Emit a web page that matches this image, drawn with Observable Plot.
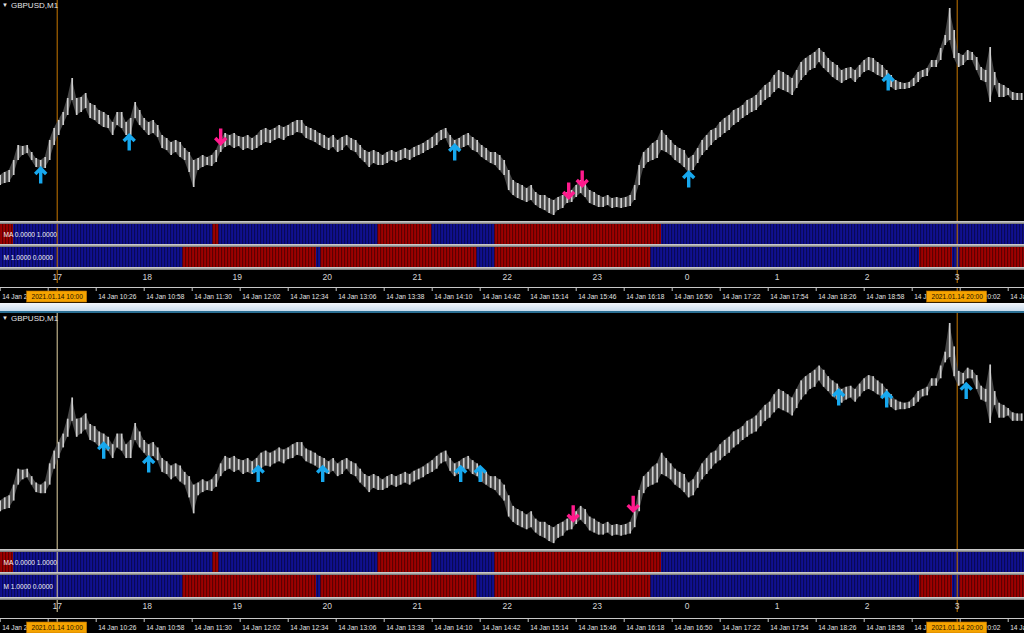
<!DOCTYPE html>
<html><head><meta charset="utf-8">
<script src="https://cdn.jsdelivr.net/npm/d3@7"></script>
<script src="https://cdn.jsdelivr.net/npm/@observablehq/plot@0.6"></script>
<style>
html,body{margin:0;padding:0;background:#000;width:1024px;height:633px;overflow:hidden;font-family:"Liberation Sans",Arial,sans-serif;}
#root{position:relative;width:1024px;height:633px;background:#000;}
.blk{position:absolute;left:0;width:1024px;}
.blk svg{display:block;}
.sep{position:absolute;left:0;width:1024px;height:3px;background:linear-gradient(#d8d8d8,#a8a8a8 50%,#6a6a6a);}
.title{position:absolute;left:2px;color:#e6e6e6;font-size:8px;line-height:9px;white-space:nowrap;}
.title span{font-size:6px;margin-right:3px;vertical-align:1px;}
.axisline{border-top:1px solid #c8c8c8;}
.bar{position:absolute;left:0;width:1024px;height:8px;background:linear-gradient(#f2f6fb,#c9dced);border-bottom:2px solid #2b6f93;}
</style></head><body><div id="root"></div>
<script>
// ---------------- DATA ----------------
const symbol = "GBPUSD,M1";
// price samples every 3 minutes starting 09:22 (price in points above chart low)
const sampleStart = "09:22";
const sampleStepMin = 3;
const highPts = [45,48,50,60,75,74,75,68,62,60, 63,80,92,100,108,122,142,122,123,127,
  117,115,110,108,105,98,108,108,98,102, 118,110,102,98,100,95,85,82,78,80,
  78,72,68,60,62,65,63,65,70,80, 87,85,87,84,83,85,82,85,90,92,
  90,92,95,93,95,98,100,100,94,92, 90,87,85,82,85,80,83,85,82,80,
  75,70,68,70,68,65,68,70,68,70, 72,70,73,75,77,80,83,87,90,92,
  85,80,82,85,87,83,80,75,72,68, 68,65,60,50,40,37,35,32,35,28,
  25,25,22,20,23,25,28,30,35,40, 37,30,28,25,23,25,22,23,22,23,
  25,35,55,68,72,77,80,90,85,80, 75,72,70,62,65,72,80,85,90,92,
  98,102,105,110,112,115,120,122,125,130, 135,138,145,150,148,145,142,150,158,162,
  165,168,172,168,162,158,155,150,152,153, 150,155,160,163,162,158,155,150,145,140,
  138,137,138,142,148,150,152,160,160,172, 185,212,190,167,165,170,168,163,153,150,
  173,148,137,135,132,128,127,127];
const lowPts = [35,37,38,45,60,65,67,60,53,52, 52,60,75,85,95,105,120,105,108,112,
  102,100,96,93,92,85,95,92,85,85, 102,95,90,85,87,83,72,70,65,68,
  63,60,48,33,50,53,55,54,58,68, 73,75,72,74,70,72,70,72,75,78,
  77,80,82,80,84,85,88,87,82,80, 78,75,72,70,73,68,70,75,70,68,
  62,58,53,57,55,55,57,60,58,60, 62,60,63,65,67,70,72,75,80,82,
  73,68,70,73,75,70,68,63,60,57, 55,50,45,30,25,22,20,18,20,15,
  12,10,7,5,10,12,17,18,23,27, 23,17,15,13,13,15,12,13,12,13,
  14,20,35,52,58,60,62,70,68,65, 60,57,53,48,50,57,65,70,75,80,
  83,87,90,95,98,102,105,108,110,115, 120,123,128,132,130,128,125,132,140,145,
  150,152,158,152,148,143,140,137,140,142, 138,143,148,150,148,145,143,140,133,130,
  131,131,132,134,138,143,144,153,153,160, 175,180,162,153,155,160,160,150,140,138,
  118,135,123,123,125,120,120,120];

// arrows (time, price tip in points)
const upTimes1 = ["09:49","10:48","14:25","17:01","19:14"];
const upPts1   = [52,85,75,48,145];
const downTimes1 = ["11:49","15:41","15:50"];
const downPts1   = [77,23,35];
const upTimes2 = ["10:31","11:01","12:14","12:57","14:29","14:42","18:41","19:13","20:06"];
const upPts2   = [99,86,77,77,77,77,149,147,155];
const downTimes2 = ["15:44","16:24"];
const downPts2   = [27,36];

// indicator strips: segment boundaries and states
const maBreaks = ["09:22","09:31","11:44","11:48","13:34","14:10","14:52","16:43","20:46"];
const maStates = ["down","up","down","up","down","up","down","up"];
const mBreaks  = ["09:22","11:24","12:53","12:56","14:40","14:52","16:36","19:35","19:57","20:02","20:46"];
const mStates  = ["up","down","up","down","up","down","up","down","up","down"];
const maLabel = "MA 0.0000 1.0000";
const mLabel  = "M 1.0000 0.0000";

// hour labels row
const hourTimes  = ["10:00","11:00","12:00","13:00","14:00","15:00","16:00","17:00","18:00","19:00","20:00"];
const hourLabels = ["17","18","19","20","21","22","23","0","1","2","3"];

// time axis (the 09:54 label is hidden under the 10:00 marker box)
const tickTimes = ["09:22","09:54","10:26","10:58","11:30","12:02","12:34","13:06","13:38","14:10","14:42",
  "15:14","15:46","16:18","16:50","17:22","17:54","18:26","18:58","19:30","20:02","20:34"];
const tickLabels = ["14 Jan 2021","","14 Jan 10:26","14 Jan 10:58","14 Jan 11:30","14 Jan 12:02",
  "14 Jan 12:34","14 Jan 13:06","14 Jan 13:38","14 Jan 14:10","14 Jan 14:42","14 Jan 15:14","14 Jan 15:46",
  "14 Jan 16:18","14 Jan 16:50","14 Jan 17:22","14 Jan 17:54","14 Jan 18:26","14 Jan 18:58","14 Jan 19:30",
  "14 Jan 20:02","14 Jan 20:34"];
const markerTimes  = ["10:00","20:00"];
const markerLabels = ["2021.01.14 10:00","2021.01.14 20:00"];

// ---------------- HELPERS ----------------
const toMin = s => { const [h,m] = s.split(":").map(Number); return h*60+m; };
const xDomain = [562.2, 1244.87];   // visible time window (minutes of day)
const BAR = "#cdcdcd", UP = "#17a8ee", DOWN = "#ff1a8c", RED = "#c40000", BLUE = "#1515b4";
const ORANGE = "#c87800";

const t0 = toMin(sampleStart);
const bars = highPts.map((h,i) => ({t: t0 + i*sampleStepMin, hi: h, lo: lowPts[i]}));
const mk = (times, pts) => times.map((s,i) => ({t: toMin(s), p: pts[i]}));
function expand(breaks, states){
  const out=[];
  for(let i=0;i<states.length;i++){ const a=toMin(breaks[i]), b=toMin(breaks[i+1]); for(let m=a;m<b;m++) out.push({t:m, s:states[i]}); }
  return out;
}
const maData = expand(maBreaks, maStates), mData = expand(mBreaks, mStates);
const markers = markerTimes.map((s,i)=>({t: toMin(s), label: markerLabels[i]}));
const arrowShape = { draw(ctx, l, r){ ctx.moveTo(0,0); ctx.lineTo(0,-l); ctx.moveTo(-r,-l+r); ctx.lineTo(0,-l); ctx.lineTo(r,-l+r); } };
const base = {width:1024, margin:0, style:{background:"transparent", overflow:"visible"}};
const xOpt = {domain:xDomain, axis:null};
const vlines = colors => Plot.ruleX(markers, {x:"t", stroke:(d,i)=>colors[i], strokeWidth:1});

const root = document.getElementById("root");
function place(node, top, cls){ const d=document.createElement("div"); d.className = cls||"blk"; d.style.top=top+"px"; if(node) d.appendChild(node); root.appendChild(d); return d; }

function chart(top, h, yRange, up, down, lineColors){
  const p = Plot.plot({...base, height:h, x:xOpt, y:{domain:[7,212], range:yRange, axis:null},
    marks:[
      vlines(lineColors),
      Plot.areaY(bars, {x:"t", y1:"lo", y2:"hi", fill:"#474747"}),
      Plot.ruleX(bars, {x:"t", y1:"lo", y2:"hi", stroke:BAR, strokeWidth:1.7}),
      Plot.vector(up, {x:"t", y:"p", length:15, r:5.5, rotate:0, anchor:"end", shape:arrowShape, stroke:UP, strokeWidth:3.4, strokeLinejoin:"miter", strokeLinecap:"butt"}),
      Plot.vector(down, {x:"t", y:"p", length:15, r:5.5, rotate:180, anchor:"end", shape:arrowShape, stroke:DOWN, strokeWidth:3.4, strokeLinejoin:"miter", strokeLinecap:"butt"})
    ]});
  place(p, top);
  const t = place(null, top+1, "title"); t.innerHTML = "<span>&#9660;</span>"+symbol;
}
function strip(top, h, data, label, lineColors){
  const p = Plot.plot({...base, height:h, x:xOpt, color:{domain:["up","down"], range:[BLUE,RED]},
    marks:[
      Plot.rect(data, {x1:"t", x2:d=>d.t+1, fill:"s", insetRight:0.45}),
      vlines(lineColors),
      Plot.text([label], {frameAnchor:"left", dx:3, textAnchor:"start", fill:"#f4f4f4", fontSize:6.6, fontFamily:"Liberation Sans"})
    ]});
  place(p, top);
}
function hours(top, h, lineColors){
  const p = Plot.plot({...base, height:h, x:xOpt,
    marks:[ vlines(lineColors),
      Plot.text(hourLabels, {x:(d,i)=>toMin(hourTimes[i]), text:d=>d, fill:"#d6d6d6", fontSize:8.5, fontFamily:"Liberation Sans"}) ]});
  place(p, top);
}
function timeAxis(top, lineColors){
  const wrap = place(null, top); wrap.classList.add("axisline");
  const ticks = Plot.plot({...base, height:3, x:xOpt, marks:[ Plot.tickX(tickTimes.map(toMin), {stroke:"#c8c8c8"}), vlines(lineColors) ]});
  const labels = Plot.plot({...base, height:11, x:xOpt, marks:[
    vlines(lineColors),
    Plot.text(tickLabels, {x:(d,i)=>toMin(tickTimes[i]), text:d=>d, textAnchor:"start", dx:2, fill:"#e4e4e4", fontSize:6.6, fontFamily:"Liberation Sans"}),
    Plot.rect(markers, {x1:d=>d.t-20, x2:d=>d.t+20, fill:"#f5a300", stroke:"#b87000", strokeWidth:0.6}),
    Plot.text(markers, {x:"t", text:"label", fill:"#1a1000", fontSize:6.6, fontFamily:"Liberation Sans"})
  ]});
  wrap.appendChild(ticks); wrap.appendChild(labels);
}

// ---------------- PANEL 1 ----------------
const lines1 = [ORANGE, ORANGE];
chart(0, 221, [213, 8], mk(upTimes1, upPts1), mk(downTimes1, downPts1), lines1);
place(null, 221, "sep");
strip(224, 20, maData, maLabel, lines1);
place(null, 244, "sep");
strip(247, 20, mData, mLabel, lines1);
place(null, 267, "sep");
hours(270, 13, lines1);
timeAxis(287, lines1);
place(null, 303, "bar");

// ---------------- PANEL 2 ----------------
const lines2 = ["#e2d3a4", ORANGE];
chart(313, 236, [228, 10], mk(upTimes2, upPts2), mk(downTimes2, downPts2), lines2);
place(null, 549, "sep");
strip(552, 20, maData, maLabel, lines2);
place(null, 572, "sep");
strip(575, 22, mData, mLabel, lines2);
place(null, 597, "sep");
hours(600, 12, lines2);
timeAxis(618, lines2);
</script></body></html>
